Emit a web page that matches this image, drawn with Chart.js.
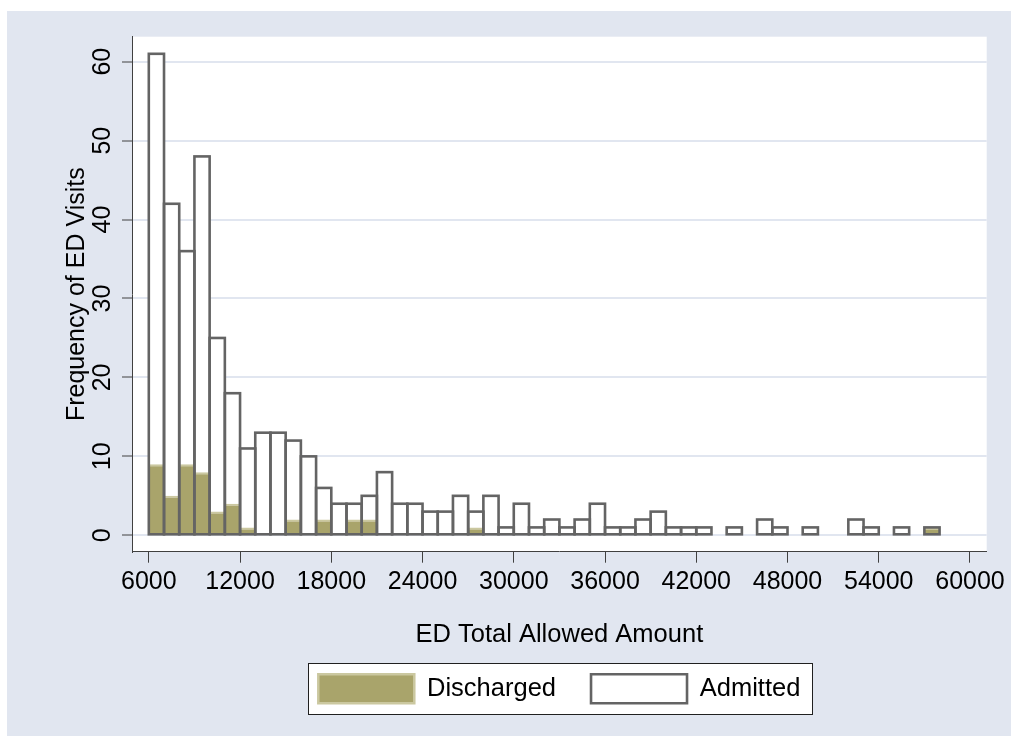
<!DOCTYPE html>
<html>
<head>
<meta charset="utf-8">
<script src="https://cdn.jsdelivr.net/npm/chart.js@4/dist/chart.umd.min.js"></script>
<style>
  html, body { margin: 0; padding: 0; background: #ffffff; }
  #wrap { position: absolute; left: 7px; top: 11px; width: 1004px; height: 725px; background: #E1E6F0; }
  canvas { display: block; }
</style>
</head>
<body>
<div id="wrap"><canvas id="c" width="1004" height="725"></canvas></div>
<script>
// ---- data ----
const binLower = [6000, 7000, 8000, 9000, 10000, 11000, 12000, 13000, 14000, 15000,
                  16000, 17000, 18000, 19000, 20000, 21000, 22000, 23000, 24000, 25000,
                  26000, 27000, 28000, 29000, 30000, 31000, 32000, 33000, 34000, 35000,
                  36000, 37000, 38000, 39000, 40000, 41000, 42000, 43000, 44000, 45000,
                  46000, 47000, 48000, 49000, 50000, 51000, 52000, 53000, 54000, 55000,
                  56000, 57000];
const binWidth = 1000;
const discharged = [9, 5, 9, 8, 3, 4, 1, 0, 0, 2,
                    0, 2, 0, 2, 2, 0, 0, 0, 0, 0,
                    0, 1, 0, 0, 0, 0, 0, 0, 0, 0,
                    0, 0, 0, 0, 0, 0, 0, 0, 0, 0,
                    0, 0, 0, 0, 0, 0, 0, 0, 0, 0,
                    0, 1];
const admitted = [61, 42, 36, 48, 25, 18, 11, 13, 13, 12,
                  10, 6, 4, 4, 5, 8, 4, 4, 3, 3,
                  5, 3, 5, 1, 4, 1, 2, 1, 2, 4,
                  1, 1, 2, 3, 1, 1, 1, 0, 1, 0,
                  2, 1, 0, 1, 0, 0, 2, 1, 0, 1,
                  0, 1];
const xTickValues = [6000, 12000, 18000, 24000, 30000, 36000, 42000, 48000, 54000, 60000];
const yTickValues = [0, 10, 20, 30, 40, 50, 60];
const seriesNames = ['Discharged', 'Admitted'];
const xTitle = 'ED Total Allowed Amount';
const yTitle = 'Frequency of ED Visits';

// ---- styles ----
const OLIVE = '#A9A46B';
const OLIVE_LIGHT = '#CBC8A0';
const OUTLINE = '#646464';
const GRID = '#E1E6F0';
const AXIS = '#404040';

Chart.defaults.font.family = "'Liberation Sans', Arial, Helvetica, sans-serif";
Chart.defaults.color = '#000';

const centers = binLower.map(v => v + binWidth / 2);
const toPoints = arr => arr.map((v, i) => ({ x: centers[i], y: v === 0 ? null : v }));

const plotBg = {
  id: 'plotBg',
  beforeDraw(chart) {
    const { ctx, chartArea: a } = chart;
    ctx.save();
    ctx.fillStyle = '#ffffff';
    ctx.fillRect(a.left, a.top, a.right - a.left, a.bottom - a.top);
    ctx.restore();
  }
};

const outline = {
  id: 'outline',
  afterDatasetsDraw(chart) {
    const ds = chart.data.datasets[1];
    const meta = chart.getDatasetMeta(1);
    const ctx = chart.ctx;
    ctx.save();
    ctx.strokeStyle = OUTLINE;
    ctx.lineWidth = 2.6;
    ctx.lineJoin = 'miter';
    meta.data.forEach((el, i) => {
      if (ds.data[i].y == null) return;
      const p = el.getProps(['x', 'y', 'base', 'width'], true);
      ctx.strokeRect(p.x - p.width / 2, p.y, p.width, p.base - p.y);
    });
    ctx.restore();
  }
};

const legendFrame = {
  id: 'legendFrame',
  afterDraw(chart) {
    const lg = chart.legend;
    if (!lg || !lg.legendHitBoxes || !lg.legendHitBoxes.length) return;
    const hb = lg.legendHitBoxes;
    const first = hb[0], last = hb[hb.length - 1];
    const left = Math.round(first.left - 10) + 0.5;
    const right = Math.round(last.left + last.width + 12) + 0.5;
    const top = Math.round(first.top - 11) + 0.5;
    const bottom = Math.round(first.top + first.height + 11) + 0.5;
    const ctx = chart.ctx;
    ctx.save();
    ctx.fillStyle = '#ffffff';
    ctx.strokeStyle = '#202020';
    ctx.lineWidth = 1;
    ctx.globalCompositeOperation = 'destination-over';
    ctx.fillRect(left, top, right - left, bottom - top);
    ctx.globalCompositeOperation = 'source-over';
    ctx.strokeRect(left, top, right - left, bottom - top);
    ctx.restore();
  }
};

new Chart(document.getElementById('c'), {
  type: 'bar',
  data: {
    datasets: [
      {
        label: seriesNames[0],
        data: toPoints(discharged),
        backgroundColor: OLIVE,
        borderColor: OLIVE_LIGHT,
        borderWidth: { top: 2, left: 0, right: 0, bottom: 0 },
        borderSkipped: false,
        inflateAmount: 0,
        grouped: false,
        barPercentage: 1,
        categoryPercentage: 1
      },
      {
        label: seriesNames[1],
        data: toPoints(admitted),
        backgroundColor: '#ffffff',
        borderColor: OUTLINE,
        borderWidth: 0,
        grouped: false,
        barPercentage: 1,
        categoryPercentage: 1
      }
    ]
  },
  options: {
    responsive: false,
    animation: false,
    events: [],
    layout: { padding: { left: 40, top: 25.7, right: 24.3, bottom: 22.7 } },
    plugins: {
      tooltip: { enabled: false },
      legend: {
        position: 'bottom',
        fullSize: false,
        labels: {
          boxWidth: 96,
          boxHeight: 29,
          padding: 35,
          color: '#000',
          font: { size: 25.5 },
          generateLabels() {
            return seriesNames.map((name, i) => ({
              text: name,
              datasetIndex: i,
              hidden: false,
              fillStyle: i === 0 ? OLIVE : '#ffffff',
              strokeStyle: i === 0 ? OLIVE_LIGHT : OUTLINE,
              lineWidth: i === 0 ? 2.5 : 2.6,
              fontColor: '#000'
            }));
          }
        }
      }
    },
    scales: {
      x: {
        type: 'linear',
        min: 4894.7,
        max: 61098.7,
        offset: false,
        afterBuildTicks: s => { s.ticks = xTickValues.map(v => ({ value: v })); },
        afterFit: s => { s.height = 87.6; },
        ticks: {
          autoSkip: false, maxRotation: 0, minRotation: 0, padding: 4,
          color: '#000', font: { size: 25 },
          callback: v => String(v)
        },
        grid: { offset: false, drawOnChartArea: false, drawTicks: true, tickLength: 11, tickColor: AXIS, tickWidth: 1 },
        border: { display: true, color: AXIS, width: 1 },
        title: { display: true, text: xTitle, color: '#000', font: { size: 25.5 }, padding: { top: 0, bottom: -10.6 } }
      },
      y: {
        min: -2.078,
        max: 63.167,
        afterBuildTicks: s => { s.ticks = yTickValues.map(v => ({ value: v })); },
        afterFit: s => { s.width = 85; },
        ticks: {
          minRotation: 90, maxRotation: 90, crossAlign: 'center', padding: 5,
          color: '#000', font: { size: 25 },
          callback: v => String(v)
        },
        grid: { color: GRID, lineWidth: 2, tickColor: AXIS, tickWidth: 1, tickLength: 10 },
        border: { display: true, color: AXIS, width: 1 },
        title: { display: true, text: yTitle, color: '#000', font: { size: 25 }, padding: { top: 15, bottom: 0 } }
      }
    }
  },
  plugins: [plotBg, outline, legendFrame]
});
</script>
</body>
</html>
